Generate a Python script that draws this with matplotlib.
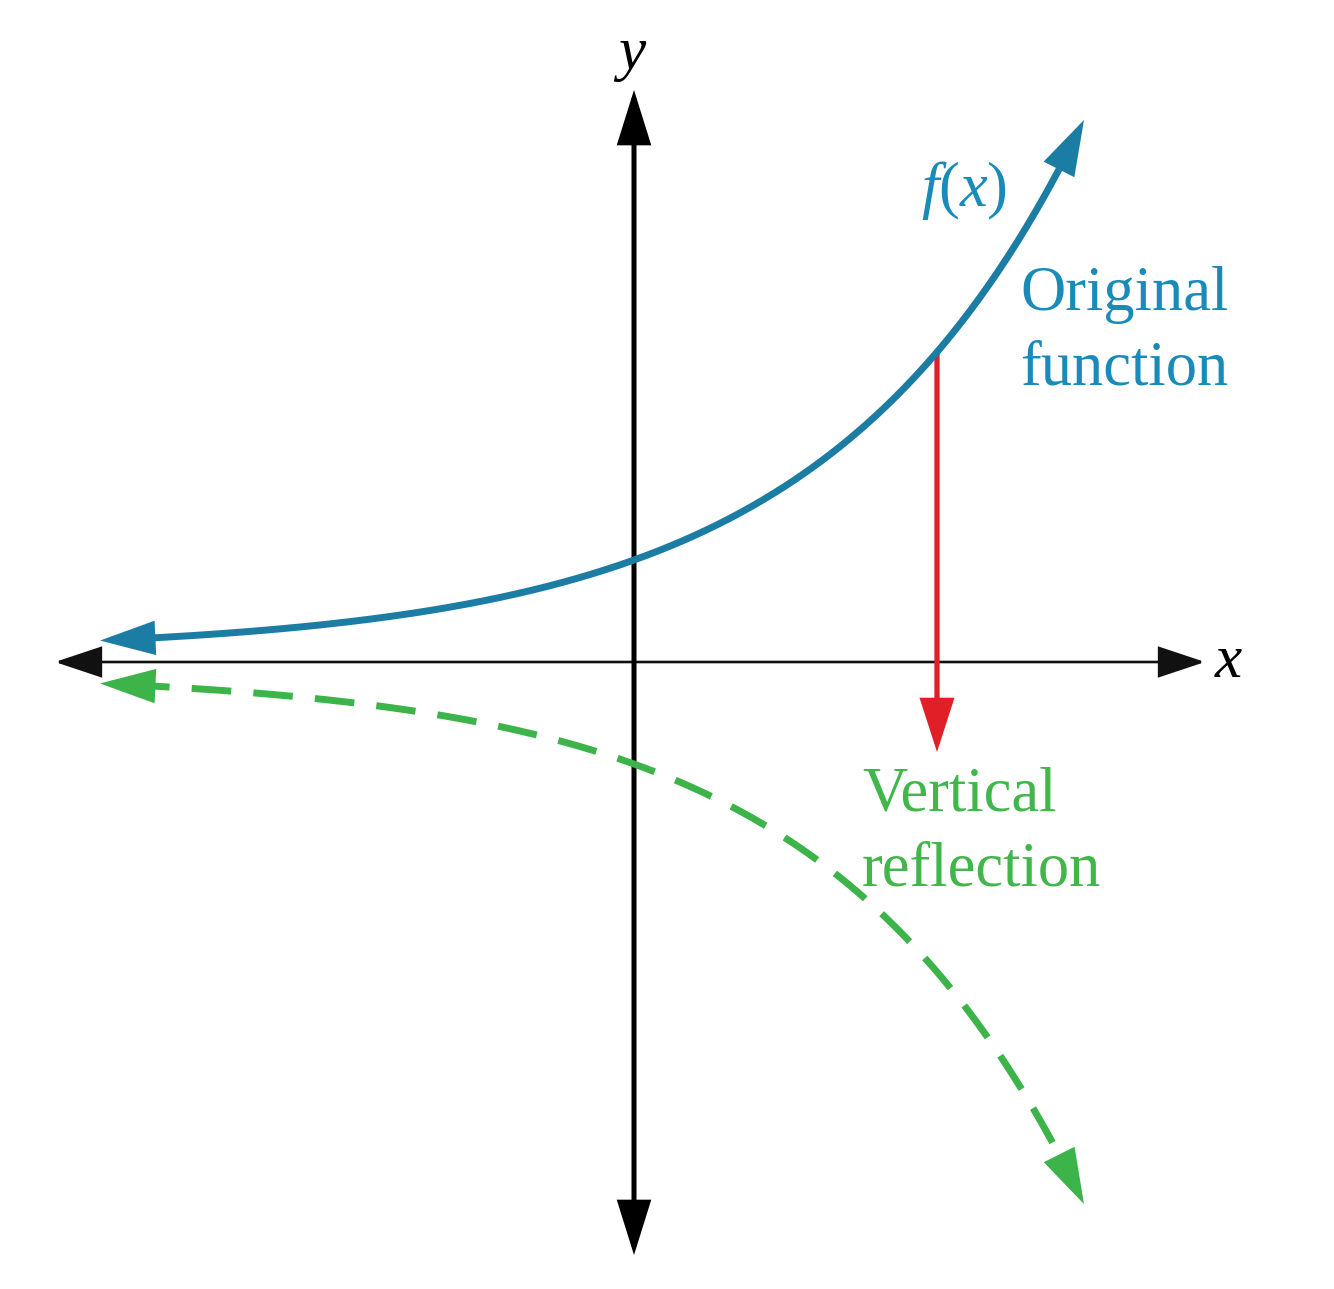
import numpy as np
import matplotlib.pyplot as plt
from matplotlib.patches import FancyArrowPatch

plt.rcParams['font.family'] = 'Liberation Serif'
plt.rcParams['mathtext.fontset'] = 'custom'
plt.rcParams['mathtext.rm'] = 'Liberation Serif'
plt.rcParams['mathtext.it'] = 'Liberation Serif:italic'

# curve: f(x) = base + amp * exp(rate * x)
curve_base = 0.10
curve_amp = 0.92
curve_rate = 0.39
curve_x = [-5.34, 4.50]          # arrow tips of the curve
reflect_x = 3.03                 # where the red arrow drops
reflect_tip_y = -0.90
x_axis = [-5.79, 5.71]
y_axis = [-5.93, 5.72]

blue = '#1b7ca4'
blue_txt = '#1a8ab8'
green = '#3cb44a'
green_txt = '#41b64b'
red = '#e01f27'


def f(x):
    return curve_base + curve_amp * np.exp(curve_rate * np.asarray(x))


def arrow(ax, p0, p1, color, lw, hl, hw, style='-|>', z=3):
    a = FancyArrowPatch(p0, p1, arrowstyle=f'{style},head_length={hl},head_width={hw}',
                        mutation_scale=1, color=color, lw=lw, shrinkA=0, shrinkB=0,
                        joinstyle='miter', capstyle='butt', zorder=z)
    ax.add_patch(a)


fig = plt.figure(figsize=(13.34, 12.89), dpi=100)
ax = fig.add_axes([0, 0, 1, 1])
ax.set_xlim(-6.34, 7.00)
ax.set_ylim(-6.27, 6.62)
ax.axis('off')

# axes
arrow(ax, (x_axis[0], 0), (x_axis[1], 0), '#111111', 1.9, 30, 10, style='<|-|>', z=2)
arrow(ax, (0, y_axis[0]), (0, y_axis[1]), 'black', 3.6, 32, 10, style='<|-|>', z=2)

# original function
lw = 5.0
xs = np.linspace(curve_x[0] + 0.3, curve_x[1] - 0.25, 400)
ax.plot(xs, f(xs), color=blue, lw=lw, solid_capstyle='butt', zorder=4)
arrow(ax, (xs[0], f(xs[0])), (curve_x[0], f(curve_x[0])), blue, lw, 29, 9, z=4)
arrow(ax, (xs[-1], f(xs[-1])), (curve_x[1], f(curve_x[1])), blue, lw, 29, 9, z=4)

# vertical reflection
xg = np.linspace(curve_x[0] + 0.3, curve_x[1] - 0.3, 400)
ax.plot(xg, -f(xg), color=green, lw=lw, dashes=(5.7, 3.2), zorder=4)
arrow(ax, (xg[0], -f(xg[0])), (curve_x[0], -f(curve_x[0])), green, lw, 29, 9, z=4)
xe = curve_x[1] - 0.2
arrow(ax, (xe, -f(xe)), (curve_x[1], -f(curve_x[1])), green, lw, 29, 9, z=4)

# red arrow
arrow(ax, (reflect_x, f(reflect_x)), (reflect_x, reflect_tip_y), red, 3.8, 31, 10, z=3)

# labels
ax.text(-0.02, 6.08, 'y', fontsize=44, style='italic', ha='center', va='center')
ax.text(5.94, 0.0, 'x', fontsize=44, style='italic', ha='center', va='center')
ax.text(3.30, 4.72, '$f(x)$', fontsize=45, color=blue_txt, ha='center', va='center')
ax.text(3.86, 3.30, 'Original\nfunction', fontsize=45, color=blue_txt,
        ha='left', va='center', linespacing=1.38)
ax.text(2.28, -1.71, 'Vertical\nreflection', fontsize=45, color=green_txt,
        ha='left', va='center', linespacing=1.38)

fig.savefig('out.png', dpi=100)
